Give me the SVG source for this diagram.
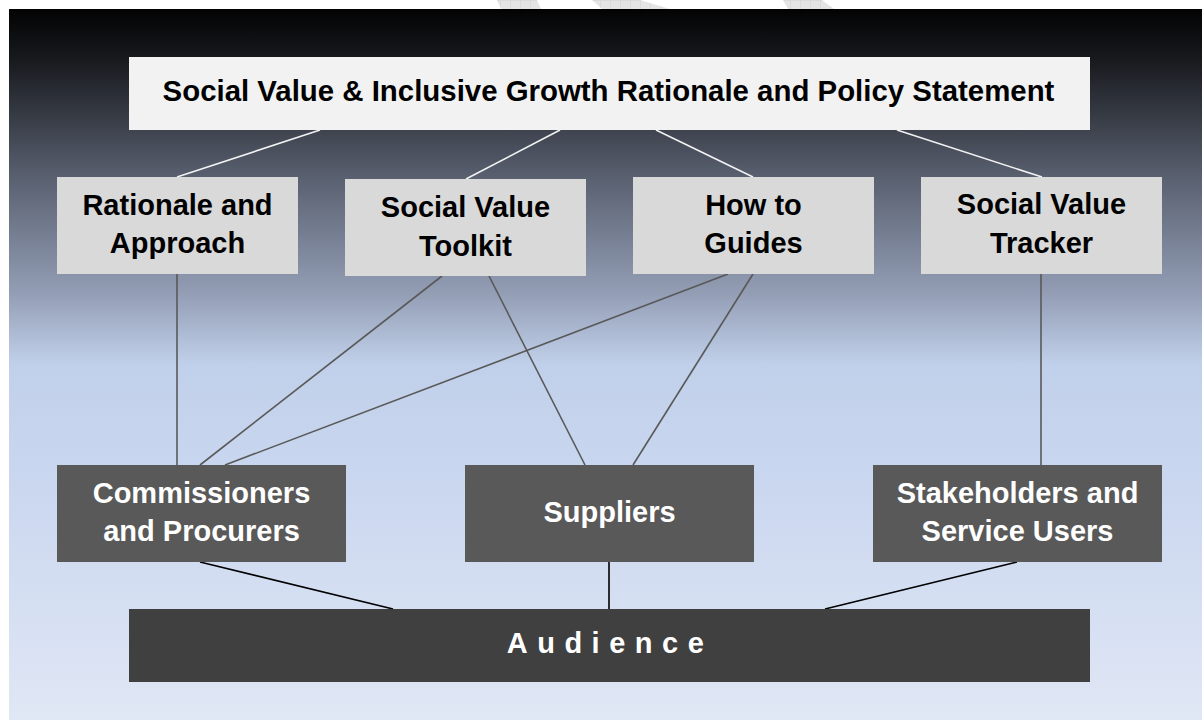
<svg xmlns="http://www.w3.org/2000/svg" width="1202" height="720" viewBox="0 0 1202 720">
<defs>
<linearGradient id="bg" x1="0" y1="9" x2="0" y2="720" gradientUnits="userSpaceOnUse">
<stop offset="0" stop-color="#030303"/>
<stop offset="0.07" stop-color="#17191d"/>
<stop offset="0.24" stop-color="#5a6171"/>
<stop offset="0.40" stop-color="#939eb5"/>
<stop offset="0.50" stop-color="#c1d0ea"/>
<stop offset="0.65" stop-color="#c9d6ef"/>
<stop offset="1" stop-color="#e0e7f5"/>
</linearGradient>
<pattern id="grid" width="10" height="10" patternUnits="userSpaceOnUse">
<rect width="10" height="10" fill="#e4e4e4"/>
<path d="M0 0H10M0 0V10" stroke="#d0d0d0" stroke-width="1"/>
</pattern>
<style>
.t{font-family:"Liberation Sans",Arial,Helvetica,sans-serif;font-weight:bold;font-size:29px;text-anchor:middle}
.dk{fill:#000}
.lt{fill:#fff}
.mid{fill:#d9d9d9}
.low{fill:#595959}
.wl{stroke:#f2f2f2;stroke-width:1.6;fill:none}
.gl{stroke:#595959;stroke-width:1.6;fill:none}
.bl{stroke:#000;stroke-width:1.6;fill:none}
</style>
</defs>
<rect x="0" y="0" width="1202" height="720" fill="#fff"/>
<g id="watermark">
<polygon points="497,0 537,0 541,9 501,9" fill="url(#grid)"/>
<polygon points="592,0 640,0 670,9 602,9" fill="url(#grid)"/>
<polygon points="783,0 822,0 834,9 788,9" fill="url(#grid)"/>
</g>
<rect x="9" y="9" width="1193" height="711" fill="url(#bg)"/>
<g id="connectors">
<line class="wl" x1="320" y1="130" x2="177" y2="177"/>
<line class="wl" x1="560" y1="130" x2="466" y2="179"/>
<line class="wl" x1="656" y1="130" x2="753" y2="177"/>
<line class="wl" x1="897" y1="130" x2="1042" y2="177"/>
<line class="gl" x1="177" y1="274" x2="177" y2="465"/>
<line class="gl" x1="442" y1="276" x2="200" y2="465"/>
<line class="gl" x1="728" y1="274" x2="225" y2="465"/>
<line class="gl" x1="489" y1="276" x2="585" y2="465"/>
<line class="gl" x1="753" y1="274" x2="633" y2="465"/>
<line class="gl" x1="1041" y1="273" x2="1041" y2="465"/>
<line class="bl" x1="200" y1="562" x2="393" y2="609"/>
<line class="bl" x1="609" y1="562" x2="609" y2="609"/>
<line class="bl" x1="1017" y1="562" x2="825" y2="609"/>
</g>
<g id="policy">
<rect x="129" y="57" width="961" height="73" fill="#f2f2f2"/>
<text class="t dk" x="608.5" y="101" style="font-size:29.4px">Social Value &amp; Inclusive Growth Rationale and Policy Statement</text>
</g>
<g id="rationale">
<rect class="mid" x="57" y="177" width="241" height="97"/>
<text class="t dk" x="177.5" y="215">Rationale and</text>
<text class="t dk" x="177.5" y="253">Approach</text>
</g>
<g id="toolkit">
<rect class="mid" x="345" y="179" width="241" height="97"/>
<text class="t dk" x="465.5" y="217">Social Value</text>
<text class="t dk" x="465.5" y="256">Toolkit</text>
</g>
<g id="guides">
<rect class="mid" x="633" y="177" width="241" height="97"/>
<text class="t dk" x="753.5" y="215">How to</text>
<text class="t dk" x="753.5" y="253">Guides</text>
</g>
<g id="tracker">
<rect class="mid" x="921" y="177" width="241" height="97"/>
<text class="t dk" x="1041.5" y="214">Social Value</text>
<text class="t dk" x="1041.5" y="253">Tracker</text>
</g>
<g id="commissioners">
<rect class="low" x="57" y="465" width="289" height="97"/>
<text class="t lt" x="201.5" y="503">Commissioners</text>
<text class="t lt" x="201.5" y="541">and Procurers</text>
</g>
<g id="suppliers">
<rect class="low" x="465" y="465" width="289" height="97"/>
<text class="t lt" x="609.5" y="522">Suppliers</text>
</g>
<g id="stakeholders">
<rect class="low" x="873" y="465" width="289" height="97"/>
<text class="t lt" x="1017.5" y="503">Stakeholders and</text>
<text class="t lt" x="1017.5" y="541">Service Users</text>
</g>
<g id="audience">
<rect x="129" y="609" width="961" height="73" fill="#404040"/>
<text class="t lt" x="610" y="653" style="letter-spacing:9.5px">Audience</text>
</g>
</svg>
